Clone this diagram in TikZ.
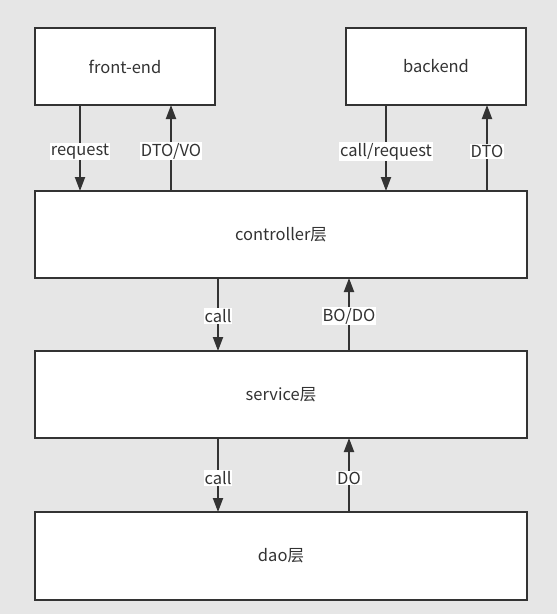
\documentclass[tikz,border=0pt]{standalone}
\usepackage{fontspec}
\setmainfont{Noto Sans CJK SC}
\usetikzlibrary{arrows.meta}
\definecolor{bg}{HTML}{E6E6E6}
\definecolor{ln}{HTML}{333333}
\begin{document}
\begin{tikzpicture}[x=1pt,y=-1pt,
  box/.style={draw=ln,line width=2pt,fill=white,inner sep=0pt,font=\fontsize{16.5}{19}\selectfont,text=ln},
  conn/.style={draw=ln,line width=2pt,-{Triangle[length=14pt,width=10pt]}},
  lbl/.style={fill=white,inner sep=1pt,font=\fontsize{16.5}{19}\selectfont,text=ln}]
\fill[bg] (0,0) rectangle (557,614);
\useasboundingbox (0,0) rectangle (557,614);
\node[box,minimum width=180pt,minimum height=77pt] (fe) at (125,66.5) {front-end};
\node[box,minimum width=180pt,minimum height=77pt] (be) at (436,66.5) {backend};
\node[box,minimum width=492pt,minimum height=87pt] (ctl) at (281,234.5) {controller层};
\node[box,minimum width=492pt,minimum height=87pt] (svc) at (281,394.5) {service层};
\node[box,minimum width=492pt,minimum height=88pt] (dao) at (281,556) {dao层};
\coordinate (a1) at (80,105); \coordinate (a2) at (80,191);
\coordinate (b1) at (171,191); \coordinate (b2) at (171,105);
\coordinate (c1) at (386,105); \coordinate (c2) at (386,191);
\coordinate (d1) at (487,191); \coordinate (d2) at (487,105);
\coordinate (e1) at (218,278); \coordinate (e2) at (218,351);
\coordinate (f1) at (349,351); \coordinate (f2) at (349,278);
\coordinate (g1) at (218,438); \coordinate (g2) at (218,512);
\coordinate (h1) at (349,512); \coordinate (h2) at (349,438);
\draw[conn] (a1) -- (a2) node[lbl,pos=0.54] (la) {request};
\draw[conn] (b1) -- (b2) node[lbl,pos=0.46] (lb) {DTO/VO};
\draw[conn] (c1) -- (c2) node[lbl,pos=0.54] (lc) {call/request};
\draw[conn] (d1) -- (d2) node[lbl,pos=0.46] (ld) {DTO};
\draw[conn] (e1) -- (e2) node[lbl,pos=0.52] (le) {call};
\draw[conn] (f1) -- (f2) node[lbl,pos=0.48] (lf) {BO/DO};
\draw[conn] (g1) -- (g2) node[lbl,pos=0.54] (lg) {call};
\draw[conn] (h1) -- (h2) node[lbl,pos=0.46] (lh) {DO};
\end{tikzpicture}
\end{document}
